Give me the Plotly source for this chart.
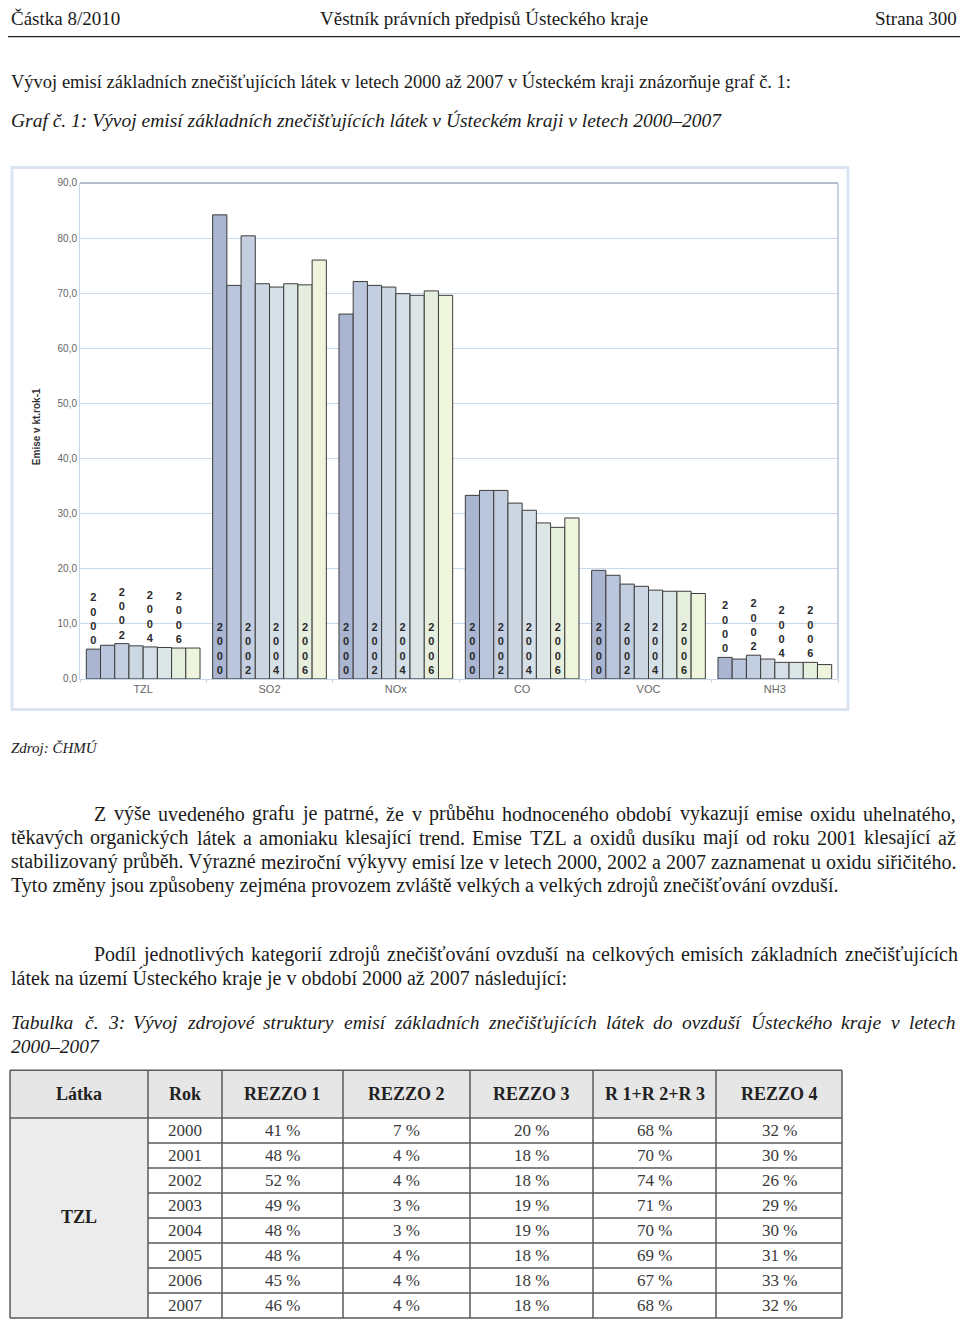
import unicodedata
import plotly.graph_objects as go

W, H = 960, 1334

# ---------------- chart data (kt/rok) ----------------
categories = ["TZL", "SO2", "NOx", "CO", "VOC", "NH3"]
years = ["2000", "2001", "2002", "2003", "2004", "2005", "2006", "2007"]
emise_2000 = [5.4, 84.2, 66.2, 33.3, 19.7, 3.9]
emise_2001 = [6.1, 71.4, 72.1, 34.2, 18.8, 3.6]
emise_2002 = [6.4, 80.4, 71.4, 34.2, 17.2, 4.3]
emise_2003 = [6.0, 71.7, 71.1, 31.9, 16.8, 3.6]
emise_2004 = [5.8, 71.1, 69.9, 30.6, 16.1, 3.0]
emise_2005 = [5.7, 71.7, 69.6, 28.3, 15.9, 3.0]
emise_2006 = [5.6, 71.5, 70.4, 27.5, 15.9, 3.0]
emise_2007 = [5.6, 76.0, 69.6, 29.2, 15.5, 2.6]
year_colors = ["#a9b5d1", "#bac6dc", "#c3cfe0", "#ccd7e3",
               "#d5dfe8", "#dde6e6", "#e6eedd", "#eef5dc"]
labelled_years = ["2000", "2002", "2004", "2006"]

# ---------------- table data ----------------
table_header = ["Látka", "Rok", "REZZO 1", "REZZO 2", "REZZO 3", "R 1+R 2+R 3", "REZZO 4"]
table_latka = "TZL"
table_years = ["2000", "2001", "2002", "2003", "2004", "2005", "2006", "2007"]
rezzo1 = [41, 48, 52, 49, 48, 48, 45, 46]
rezzo2 = [7, 4, 4, 3, 3, 4, 4, 4]
rezzo3 = [20, 18, 18, 19, 19, 18, 18, 18]
r123 = [68, 70, 74, 71, 70, 69, 67, 68]
rezzo4 = [32, 30, 26, 29, 30, 31, 33, 32]

# ---------------- page texts ----------------
header_left = "Částka 8/2010"
header_mid = "Věstník právních předpisů Ústeckého kraje"
header_right = "Strana 300"
intro = "Vývoj emisí základních znečišťujících látek v letech 2000 až 2007 v Ústeckém kraji znázorňuje graf č. 1:"
graf_caption = "Graf č. 1: Vývoj emisí základních znečišťujících látek v Ústeckém kraji v letech 2000–2007"
source = "Zdroj: ČHMÚ"
para1 = [
    "Z výše uvedeného grafu je patrné, že v průběhu hodnoceného období vykazují emise oxidu uhelnatého,",
    "těkavých organických látek a amoniaku klesající trend. Emise TZL a oxidů dusíku mají od roku 2001 klesající až",
    "stabilizovaný průběh. Výrazné meziroční výkyvy emisí lze v letech 2000, 2002 a 2007 zaznamenat u oxidu siřičitého.",
    "Tyto změny jsou způsobeny zejména provozem zvláště velkých a velkých zdrojů znečišťování ovzduší.",
]
para2 = [
    "Podíl jednotlivých kategorií zdrojů znečišťování ovzduší na celkových emisích základních znečišťujících",
    "látek na území Ústeckého kraje je v období 2000 až 2007 následující:",
]
tab_caption = [
    "Tabulka č. 3: Vývoj zdrojové struktury emisí základních znečišťujících látek do ovzduší Ústeckého kraje v letech",
    "2000–2007",
]

SERIF = "Liberation Serif"
SANS = "Liberation Sans"

# Times-compatible advance widths (1/1000 em), used only to justify paragraph lines
ROMAN = dict(zip("abcdefghijklmnopqrstuvwxyz",
                 [444, 500, 444, 500, 444, 333, 500, 500, 278, 278, 500, 278, 778,
                  500, 500, 500, 500, 333, 389, 278, 500, 500, 722, 500, 500, 444]))
ROMAN.update(zip("ABCDEFGHIJKLMNOPQRSTUVWXYZ",
                 [722, 667, 667, 722, 611, 556, 722, 722, 333, 389, 722, 611, 889,
                  722, 722, 556, 722, 667, 556, 611, 722, 722, 944, 722, 722, 611]))
ITALIC = dict(zip("abcdefghijklmnopqrstuvwxyz",
                  [500, 500, 444, 500, 444, 278, 500, 500, 278, 278, 444, 278, 722,
                   500, 500, 500, 500, 389, 389, 278, 500, 444, 667, 444, 444, 389]))
ITALIC.update(zip("ABCDEFGHIJKLMNOPQRSTUVWXYZ",
                  [611, 611, 667, 722, 611, 611, 722, 722, 333, 444, 667, 556, 833,
                   667, 722, 611, 722, 611, 500, 556, 722, 611, 833, 611, 556, 556]))
PUNCT = {",": 250, ".": 250, ":": 278, "–": 500, "%": 833, "-": 333, "+": 564}


def text_width(s, size, italic=False):
    table = ITALIC if italic else ROMAN
    total = 0
    for ch in s:
        if ch == "ť":
            total += 350
            continue
        base = unicodedata.normalize("NFD", ch)[0]
        if base.isdigit():
            total += 500
        else:
            total += table.get(base, PUNCT.get(base, 500))
    return total * size / 1000


def px(x):
    return x / W


def py(y):
    return 1 - y / H


def text(x, y, s, size=18, anchor="left", color="#1a1a1a", family=SERIF, **kw):
    return dict(x=px(x), y=py(y), xref="paper", yref="paper", text=s, showarrow=False,
                xanchor=anchor, yanchor="middle", borderpad=0,
                font=dict(family=family, size=size, color=color), **kw)


def justified(x0, x1, y, line, size, italic=False):
    """Place the words of one line so that it fills x0..x1."""
    words = line.split(" ")
    widths = [text_width(w, size, italic) for w in words]
    gap = (x1 - x0 - sum(widths)) / (len(words) - 1)
    out, x = [], x0
    for w, wd in zip(words, widths):
        out.append(text(x, y, "<i>" + w + "</i>" if italic else w, size=size))
        x += wd + gap
    return out


def hline(x0, x1, y, color, width):
    return dict(type="line", xref="paper", yref="paper", x0=px(x0), x1=px(x1),
                y0=py(y), y1=py(y), line=dict(color=color, width=width))


def vline(x, y0, y1, color, width):
    return dict(type="line", xref="paper", yref="paper", x0=px(x), x1=px(x),
                y0=py(y0), y1=py(y1), line=dict(color=color, width=width))


fig = go.Figure()

# ---------------- Bars ----------------
series = [emise_2000, emise_2001, emise_2002, emise_2003,
          emise_2004, emise_2005, emise_2006, emise_2007]
positions = ["outside", "inside", "inside", "inside", "inside", "outside"]
for yr, vals, col in zip(years, series, year_colors):
    label = "<b>" + "<br>".join(yr) + "</b>" if yr in labelled_years else ""
    fig.add_trace(go.Bar(
        x=categories, y=vals, name=yr,
        marker=dict(color=col, line=dict(color="#3c3c3c", width=1)),
        text=[label] * len(categories), textposition=positions,
        insidetextanchor="start", textangle=0, constraintext="none",
        textfont=dict(family=SANS, size=11, color="#2a2a2a"),
        cliponaxis=False, hoverinfo="x+y+name",
    ))

ann = []
shapes = []

# ---------------- page header / texts ----------------
ann.append(text(10, 13, header_left, size=19))
ann.append(text(484, 13, header_mid, size=19, anchor="center"))
ann.append(text(958, 13, header_right, size=19, anchor="right"))
shapes.append(hline(8, 960, 31, "#222", 1.2))
ann.append(text(10, 76, intro, size=18.5))
ann.append(text(10, 116, "<i>" + graf_caption + "</i>", size=19.5))
ann.append(text(10, 749, "<i>" + source + "</i>", size=15))

LEFT, RIGHT, INDENT = 10, 955, 93
for i, line in enumerate(para1):
    y = 815 + i * 24.3
    if i < len(para1) - 1:
        ann += justified(INDENT if i == 0 else LEFT, RIGHT, y, line, 20)
    else:
        ann.append(text(LEFT, y, line, size=20))
ann += justified(INDENT, RIGHT, 957, para2[0], 20)
ann.append(text(LEFT, 980.5, para2[1], size=20))
ann += justified(LEFT, RIGHT, 1026, tab_caption[0], 19.5, italic=True)
ann.append(text(LEFT, 1049.5, "<i>" + tab_caption[1] + "</i>", size=19.5))

# ---------------- chart frame ----------------
shapes.append(dict(type="rect", xref="paper", yref="paper", x0=px(12), x1=px(848),
                   y0=py(710), y1=py(163), line=dict(color="#dbe5f1", width=3)))
shapes.append(hline(80, 838, 178.5, "#9ea7b8", 1.5))
shapes.append(vline(838, 178.5, 679, "#b3c2d9", 1.5))
ann.append(text(36, 425, "<b>Emise v kt.rok-1</b>", size=10, anchor="center",
                color="#333", family=SANS, textangle=-90))

# ---------------- table ----------------
col_x = [10, 148, 222, 343, 470, 593, 716, 842]
head_top, head_bot = 1074, 1122
row_h = (1324 - head_bot) / len(table_years)
grid = "#5a5a5a"
shapes.append(dict(type="rect", xref="paper", yref="paper", x0=px(col_x[0]), x1=px(col_x[-1]),
                   y0=py(head_bot), y1=py(head_top), fillcolor="#e6e6e6", line=dict(width=0), layer="below"))
shapes.append(dict(type="rect", xref="paper", yref="paper", x0=px(col_x[0]), x1=px(col_x[1]),
                   y0=py(1324), y1=py(head_bot), fillcolor="#ececec", line=dict(width=0), layer="below"))
for x in col_x:
    shapes.append(vline(x, head_top, 1324, grid, 1.5))
shapes.append(hline(col_x[0], col_x[-1], head_top, grid, 1.5))
for r in range(len(table_years) + 1):
    x0 = col_x[0] if r in (0, len(table_years)) else col_x[1]
    shapes.append(hline(x0, col_x[-1], head_bot + r * row_h, grid, 1.5))
for j, h in enumerate(table_header):
    ann.append(text((col_x[j] + col_x[j + 1]) / 2, (head_top + head_bot) / 2, "<b>" + h + "</b>",
                    size=18, anchor="center", color="#222"))
ann.append(text((col_x[0] + col_x[1]) / 2, head_bot + 4 * row_h - 1, "<b>" + table_latka + "</b>",
                size=18, anchor="center", color="#222"))
cols = [table_years,
        [f"{v} %" for v in rezzo1], [f"{v} %" for v in rezzo2], [f"{v} %" for v in rezzo3],
        [f"{v} %" for v in r123], [f"{v} %" for v in rezzo4]]
for j, col in enumerate(cols, start=1):
    for r, v in enumerate(col):
        ann.append(text((col_x[j] + col_x[j + 1]) / 2, head_bot + (r + 0.5) * row_h, v,
                        size=17, anchor="center", color="#3a3a3a"))

fig.update_layout(
    width=W, height=H, margin=dict(l=0, r=0, t=0, b=0),
    paper_bgcolor="white", plot_bgcolor="white",
    barmode="group", bargap=0.1, bargroupgap=0,
    showlegend=False, separators=", ",
    annotations=ann, shapes=shapes,
    xaxis=dict(domain=[px(80), px(838)], showgrid=False, showline=True, linecolor="#c8d6e8",
               tickson="boundaries", ticks="outside", ticklen=3, tickcolor="#c8d6e8",
               tickfont=dict(family=SANS, size=11, color="#666"), fixedrange=True),
    yaxis=dict(domain=[py(679), py(178.5)], range=[0, 90], dtick=10, tickformat=".1f",
               showgrid=True, gridcolor="#c9d8ea", gridwidth=1, showline=True, linecolor="#c8d6e8",
               zeroline=False, tickfont=dict(family=SANS, size=10, color="#666"),
               ticks="", fixedrange=True),
)

# the page is exactly the figure size, so drop the browser's default body margin
fig.write_html("out.html", config={"displayModeBar": False},
               post_script="document.body.style.margin='0px';")
